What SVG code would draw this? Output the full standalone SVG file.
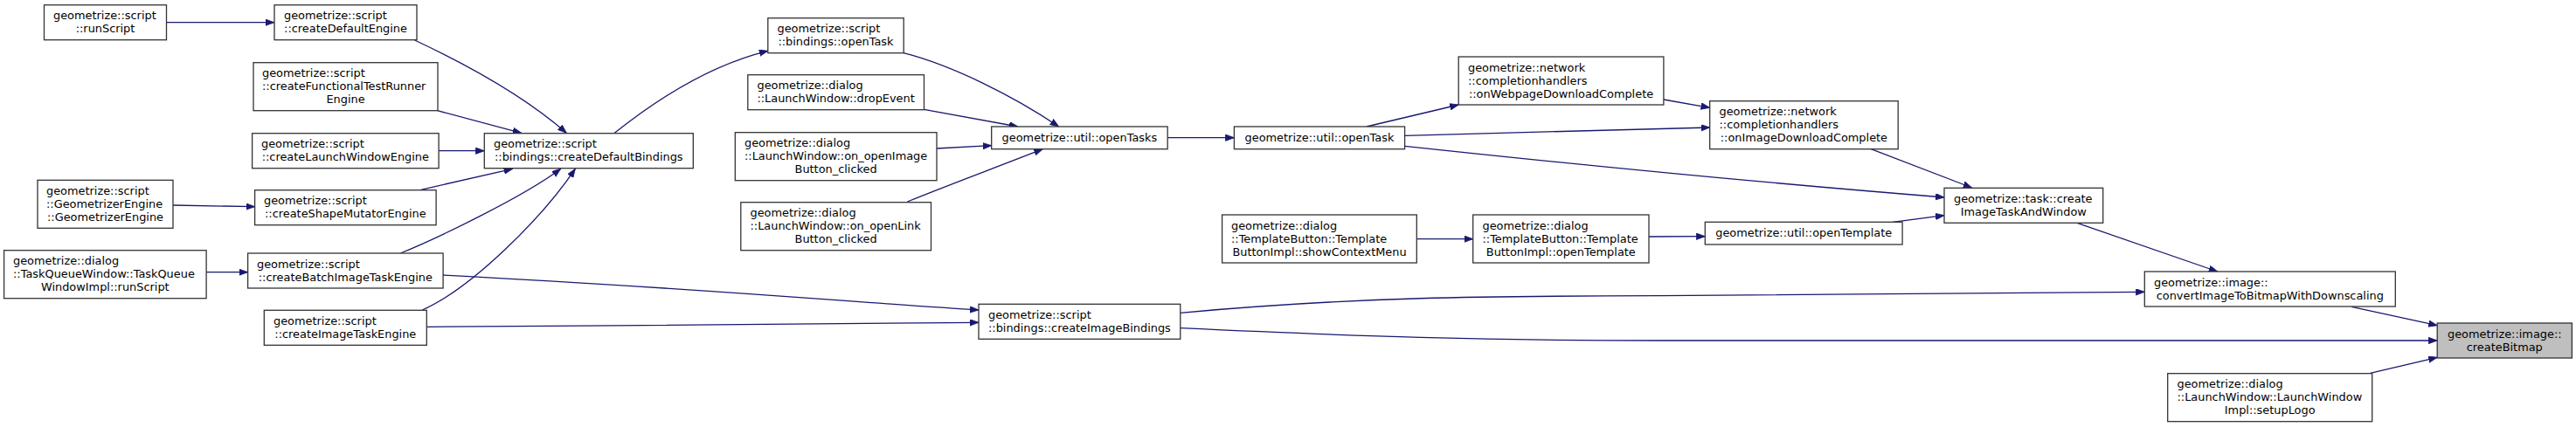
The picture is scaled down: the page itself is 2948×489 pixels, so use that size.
<svg xmlns="http://www.w3.org/2000/svg" width="2948" height="489" viewBox="0 0 2948 489">
<style>
.n rect{fill:#fff;stroke:#333;stroke-width:1.3}
.n.hl rect{fill:#bfbfbf}
.n text{font-family:"DejaVu Sans","Liberation Sans",sans-serif;font-size:12.9px;fill:#000}
.m{text-anchor:middle}
.e path{fill:none;stroke:#191970;stroke-width:1.3;marker-end:url(#ah)}
</style>
<defs>
<marker id="ah" markerUnits="userSpaceOnUse" markerWidth="11" markerHeight="8" refX="10" refY="3.7" orient="auto">
<path d="M0,0 L10,3.7 L0,7.4 z" fill="#191970" stroke="#191970" stroke-width="0.8"/>
</marker>
</defs>
<rect width="2948" height="489" fill="#fff"/>
<g id="edges" class="e">
<path d="M190.6,25.7 L313.8,25.7"/>
<path d="M474.6,46 C530,72 600,110 648.3,152.3"/>
<path d="M500.6,126.7 L596.7,152.3"/>
<path d="M502,172.7 L554.3,172.7"/>
<path d="M481.7,217.3 L586.7,193.3"/>
<path d="M458.3,290 C500,273 600,225 641.7,193.3"/>
<path d="M483.3,355 C540,330 620,250 658.3,193.3"/>
<path d="M506.7,315 C800,330 1000,348 1120,355"/>
<path d="M488.3,374.3 C700,373 950,371 1120,369.3"/>
<path d="M703.3,152.3 C750,115 810,75 878.8,58.3"/>
<path d="M1034.2,60.7 C1090,75 1160,110 1211.7,145"/>
<path d="M1057.5,125.3 L1165,145"/>
<path d="M1072,170 L1134.7,166.7"/>
<path d="M1038.4,231 C1090,210 1150,188 1193.3,170.7"/>
<path d="M1336.2,157.7 L1412.4,157.7"/>
<path d="M1563.9,145 L1669.2,120"/>
<path d="M1607.6,155.3 C1750,152 1880,148 1956.7,146"/>
<path d="M1607.6,167.3 C1800,188 2050,212 2225,226"/>
<path d="M1903.9,114 L1956.7,123.3"/>
<path d="M2141.2,170.7 L2256.7,215"/>
<path d="M1621.3,273.7 L1685.7,273.7"/>
<path d="M1887,271 L1951.3,270.7"/>
<path d="M2166,254.3 L2225,246.7"/>
<path d="M2377.1,255.3 L2537.8,311"/>
<path d="M1350.8,358.3 C1550,340 1700,339 1900,338.7 L2454.3,334.3"/>
<path d="M1350.8,375.7 C1550,385 1700,390 1900,390 L2789.2,390"/>
<path d="M2691.2,351.3 L2789.2,372.7"/>
<path d="M2712.5,427.3 L2789.2,409.3"/>
<path d="M198.2,235 L291.6,236.7"/>
<path d="M236.1,311.7 L283.6,311.7"/>
</g>
<g id="runScript" class="n"><rect x="50.5" y="5.7" width="140" height="40"/><text x="61" y="22">geometrize::script</text><text class="m" x="120.5" y="37">::runScript</text></g>
<g id="createDefaultEngine" class="n"><rect x="314" y="5.7" width="163" height="40"/><text x="325" y="22">geometrize::script</text><text class="m" x="395.5" y="37">::createDefaultEngine</text></g>
<g id="createFunctionalTestRunnerEngine" class="n"><rect x="290" y="71.7" width="211" height="55"/><text x="300" y="88">geometrize::script</text><text x="300" y="103">::createFunctionalTestRunner</text><text class="m" x="395.5" y="118">Engine</text></g>
<g id="createLaunchWindowEngine" class="n"><rect x="288.6" y="152.7" width="213.5" height="40"/><text x="299" y="169">geometrize::script</text><text class="m" x="395.3" y="184">::createLaunchWindowEngine</text></g>
<g id="GeometrizerEngine" class="n"><rect x="43" y="206.3" width="155" height="55"/><text x="53" y="223">geometrize::script</text><text x="53" y="238">::GeometrizerEngine</text><text class="m" x="120.5" y="253">::GeometrizerEngine</text></g>
<g id="createShapeMutatorEngine" class="n"><rect x="291.6" y="217.7" width="207.5" height="40"/><text x="302" y="234">geometrize::script</text><text class="m" x="395.3" y="249">::createShapeMutatorEngine</text></g>
<g id="TaskQueueRunScript" class="n"><rect x="4.6" y="286.7" width="231.5" height="55"/><text x="15" y="303">geometrize::dialog</text><text x="15" y="318">::TaskQueueWindow::TaskQueue</text><text class="m" x="120.3" y="333">WindowImpl::runScript</text></g>
<g id="createBatchImageTaskEngine" class="n"><rect x="283.6" y="290" width="223.5" height="40"/><text x="294" y="306.5">geometrize::script</text><text class="m" x="395.3" y="321.5">::createBatchImageTaskEngine</text></g>
<g id="createImageTaskEngine" class="n"><rect x="302.3" y="355.3" width="186" height="40"/><text x="313" y="371.5">geometrize::script</text><text class="m" x="395.3" y="386.5">::createImageTaskEngine</text></g>
<g id="createDefaultBindings" class="n"><rect x="554.3" y="152.7" width="239" height="40"/><text x="565" y="169">geometrize::script</text><text class="m" x="673.8" y="184">::bindings::createDefaultBindings</text></g>
<g id="bindingsOpenTask" class="n"><rect x="878.8" y="20.7" width="155.4" height="40"/><text x="889.5" y="37">geometrize::script</text><text class="m" x="956.5" y="52">::bindings::openTask</text></g>
<g id="dropEvent" class="n"><rect x="855.8" y="85.7" width="201.7" height="40"/><text x="866.5" y="102">geometrize::dialog</text><text class="m" x="956.6" y="117">::LaunchWindow::dropEvent</text></g>
<g id="onOpenImageButtonClicked" class="n"><rect x="841.3" y="151.7" width="230.7" height="55"/><text x="852" y="168">geometrize::dialog</text><text x="852" y="183">::LaunchWindow::on_openImage</text><text class="m" x="956.6" y="198">Button_clicked</text></g>
<g id="onOpenLinkButtonClicked" class="n"><rect x="847.8" y="231.7" width="217.7" height="55"/><text x="858.5" y="248">geometrize::dialog</text><text x="858.5" y="263">::LaunchWindow::on_openLink</text><text class="m" x="956.6" y="278">Button_clicked</text></g>
<g id="createImageBindings" class="n"><rect x="1120" y="348.3" width="230.8" height="40"/><text x="1131" y="364.5">geometrize::script</text><text class="m" x="1235.4" y="379.5">::bindings::createImageBindings</text></g>
<g id="openTasks" class="n"><rect x="1134.7" y="145" width="201.5" height="25.7"/><text class="m" x="1235.4" y="162">geometrize::util::openTasks</text></g>
<g id="utilOpenTask" class="n"><rect x="1412.4" y="145" width="195.2" height="25.7"/><text class="m" x="1510" y="162">geometrize::util::openTask</text></g>
<g id="onWebpageDownloadComplete" class="n"><rect x="1669.2" y="65" width="234.7" height="55"/><text x="1680" y="81.5">geometrize::network</text><text x="1680" y="96.5">::completionhandlers</text><text class="m" x="1786.5" y="111.5">::onWebpageDownloadComplete</text></g>
<g id="onImageDownloadComplete" class="n"><rect x="1956.7" y="115.7" width="215.5" height="55"/><text x="1967.5" y="132">geometrize::network</text><text x="1967.5" y="147">::completionhandlers</text><text class="m" x="2064.4" y="162">::onImageDownloadComplete</text></g>
<g id="showContextMenu" class="n"><rect x="1398.6" y="246" width="222.7" height="55"/><text x="1409" y="262.5">geometrize::dialog</text><text x="1409" y="277.5">::TemplateButton::Template</text><text class="m" x="1510" y="292.5">ButtonImpl::showContextMenu</text></g>
<g id="templateButtonOpenTemplate" class="n"><rect x="1685.7" y="246" width="201.3" height="55"/><text x="1696.5" y="262.5">geometrize::dialog</text><text x="1696.5" y="277.5">::TemplateButton::Template</text><text class="m" x="1786.3" y="292.5">ButtonImpl::openTemplate</text></g>
<g id="utilOpenTemplate" class="n"><rect x="1951.3" y="254.3" width="225.8" height="25.7"/><text class="m" x="2064.2" y="271.3">geometrize::util::openTemplate</text></g>
<g id="createImageTaskAndWindow" class="n"><rect x="2225" y="215.3" width="181.7" height="40"/><text x="2236" y="231.5">geometrize::task::create</text><text class="m" x="2315.8" y="246.5">ImageTaskAndWindow</text></g>
<g id="convertImageToBitmapWithDownscaling" class="n"><rect x="2454.3" y="311" width="287" height="40"/><text x="2465" y="327.5">geometrize::image::</text><text class="m" x="2597.8" y="342.5">convertImageToBitmapWithDownscaling</text></g>
<g id="createBitmap" class="n hl"><rect x="2789.2" y="370" width="154.2" height="40"/><text class="m" x="2866.3" y="386.5">geometrize::image::</text><text class="m" x="2866.3" y="401.5">createBitmap</text></g>
<g id="setupLogo" class="n"><rect x="2480.7" y="427.7" width="234" height="55"/><text x="2491.5" y="444">geometrize::dialog</text><text x="2491.5" y="459">::LaunchWindow::LaunchWindow</text><text class="m" x="2597.7" y="474">Impl::setupLogo</text></g>
</svg>
